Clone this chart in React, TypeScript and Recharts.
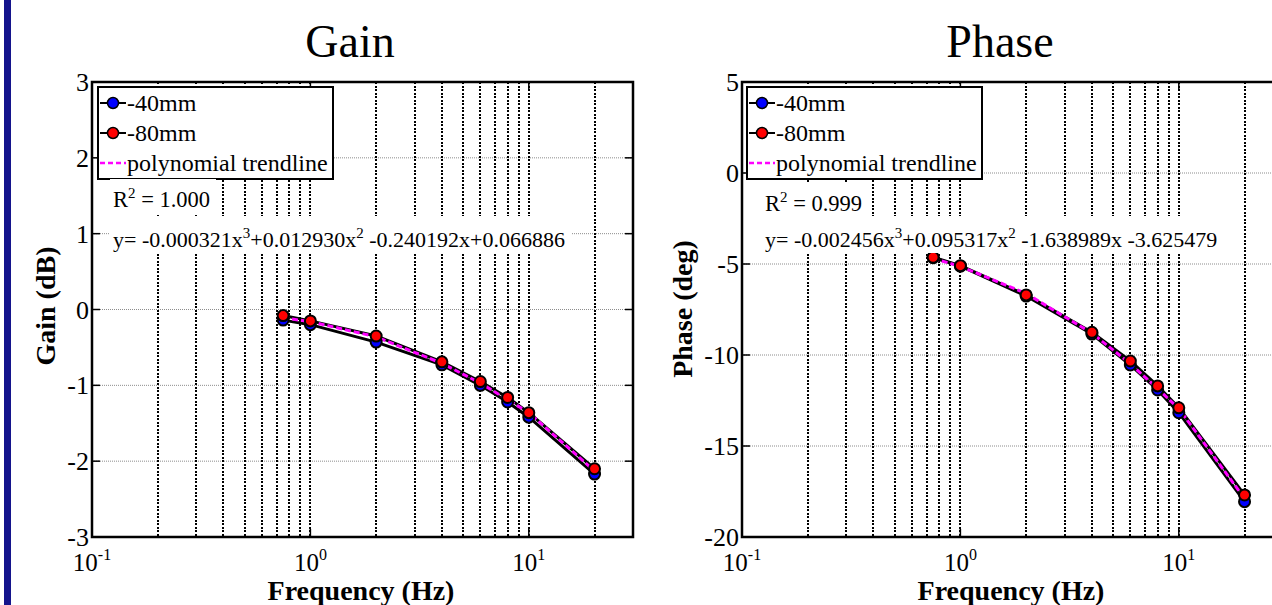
import React from "react";
import { LineChart, Line, XAxis, YAxis, CartesianGrid, ReferenceArea, Legend } from "recharts";

// frequency points (Hz)
const FREQ = [0.75, 1, 2, 4, 6, 8, 10, 20];

// gain (dB)
const GAIN_40 = [-0.14, -0.2, -0.43, -0.73, -1.0, -1.22, -1.42, -2.17];
const GAIN_80 = [-0.08, -0.15, -0.35, -0.69, -0.95, -1.16, -1.36, -2.1];
const GAIN_TREND = [-0.11, -0.16, -0.36, -0.71, -0.97, -1.19, -1.36, -2.13];

// phase (deg)
const PHASE_40 = [-4.65, -5.12, -6.76, -8.85, -10.55, -11.92, -13.17, -18.06];
const PHASE_80 = [-4.63, -5.09, -6.7, -8.75, -10.33, -11.7, -12.9, -17.69];
const PHASE_TREND = [-4.7, -5.13, -6.62, -8.8, -10.48, -11.85, -12.95, -17.88];

const X_TICKS = [0.1, 1, 10];
const X_GRID = [0.2, 0.3, 0.4, 0.5, 0.6, 0.7, 0.8, 0.9, 1, 2, 3, 4, 5, 6, 7, 8, 9, 10, 20];
const GAIN_TICKS = [-3, -2, -1, 0, 1, 2, 3];
const PHASE_TICKS = [-20, -15, -10, -5, 0, 5];

const SERIES_NAMES = ["-40mm", "-80mm", "polynomial trendline"];
const GAIN_R2 = "1.000";
const PHASE_R2 = "0.999";
const GAIN_EQ = ["y= -0.000321x", "3", "+0.012930x", "2", " -0.240192x+0.066886"];
const PHASE_EQ = ["y= -0.002456x", "3", "+0.095317x", "2", " -1.638989x -3.625479"];

const SERIF = "'Liberation Serif', 'Times New Roman', serif";
const TOP = 82;
const BOTTOM = 537;
const PLOT_H = BOTTOM - TOP;

const gainData = FREQ.map((f, i) => ({ f, a: GAIN_40[i], b: GAIN_80[i], t: GAIN_TREND[i] }));
const phaseData = FREQ.map((f, i) => ({ f, a: PHASE_40[i], b: PHASE_80[i], t: PHASE_TREND[i] }));

const DOT_COLORS: Record<string, string> = { a: "#0000ff", b: "#ff0000" };

function LegendContent(props: any) {
  const items = (props.payload || []) as any[];
  return (
    <div
      style={{
        boxSizing: "border-box",
        width: 237,
        height: 94,
        border: "2px solid #000",
        background: "#fff",
        fontFamily: SERIF,
        fontSize: 24,
        color: "#000",
      }}
    >
      {items.map((e) => (
        <div key={e.dataKey} style={{ height: 30, display: "flex", alignItems: "center", whiteSpace: "nowrap" }}>
          <svg width={28} height={30} style={{ flex: "none" }}>
            {e.dataKey === "t" ? (
              <line x1={1} x2={27} y1={15} y2={15} stroke="#ff00ff" strokeWidth={2.5} strokeDasharray="5 3" />
            ) : (
              <>
                <line x1={1} x2={27} y1={15} y2={15} stroke="#000" strokeWidth={2} />
                <circle cx={14} cy={15} r={5.5} fill={DOT_COLORS[e.dataKey]} stroke="#000" strokeWidth={1.5} />
              </>
            )}
          </svg>
          <span>{e.value}</span>
        </div>
      ))}
    </div>
  );
}

function Panel({ left, plotLeft, plotRight, data, domain, ticks, legendLeft }: any) {
  const width = 660;
  const plotW = plotRight - plotLeft;
  const xTick = (p: any) => {
    const exp = Math.round(Math.log10(p.payload.value));
    const axisY = p.y - 34;
    return (
      <g>
        <line x1={p.x} x2={p.x} y1={axisY} y2={axisY - 8} stroke="#000" strokeWidth={1.5} />
        <line x1={p.x} x2={p.x} y1={axisY - PLOT_H} y2={axisY - PLOT_H + 8} stroke="#000" strokeWidth={1.5} />
        <text x={p.x} y={p.y} textAnchor="middle" fontFamily={SERIF} fontSize={25} fill="#000">
          10<tspan dy={-11} fontSize={16}>{exp}</tspan>
        </text>
      </g>
    );
  };
  const yTick = (p: any) => {
    const axisX = p.x + 3;
    return (
      <g>
        <line x1={axisX} x2={axisX + 8} y1={p.y} y2={p.y} stroke="#000" strokeWidth={1.5} />
        <line x1={axisX + plotW - 8} x2={axisX + plotW} y1={p.y} y2={p.y} stroke="#000" strokeWidth={1.5} />
        <text x={p.x} y={p.y} dy="0.35em" textAnchor="end" fontFamily={SERIF} fontSize={26} fill="#000">
          {p.payload.value}
        </text>
      </g>
    );
  };
  return (
    <div style={{ position: "absolute", left, top: 0 }}>
      <LineChart
        width={width}
        height={605}
        data={data}
        margin={{ top: TOP, right: left + width - plotRight, bottom: 605 - BOTTOM - 30, left: plotLeft - left - 60 }}
      >
        <CartesianGrid vertical={false} horizontalValues={ticks} stroke="#8c8c8c" strokeDasharray="1 1" />
        <CartesianGrid
          horizontal={false}
          verticalValues={X_GRID}
          stroke="#000"
          strokeWidth={2}
          strokeDasharray="2 1.5"
          shapeRendering="crispEdges"
        />
        <XAxis
          dataKey="f"
          type="number"
          scale="log"
          domain={[0.1, 30]}
          ticks={X_TICKS}
          allowDataOverflow
          interval={0}
          height={30}
          tickSize={0}
          tickMargin={34}
          tickLine={false}
          axisLine={false}
          tick={xTick}
        />
        <YAxis
          type="number"
          domain={domain}
          ticks={ticks}
          allowDataOverflow
          interval={0}
          width={60}
          tickSize={0}
          tickMargin={3}
          tickLine={false}
          axisLine={false}
          tick={yTick}
        />
        <ReferenceArea x1={0.1} x2={30} y1={domain[0]} y2={domain[1]} fill="none" stroke="#000" strokeWidth={2.5} />
        <Legend
          layout="vertical"
          align="center"
          verticalAlign="middle"
          content={LegendContent}
          wrapperStyle={{ left: legendLeft - left, top: 86, width: 237, height: 94 }}
        />
        <Line
          dataKey="a"
          name={SERIES_NAMES[0]}
          stroke="#000"
          strokeWidth={3}
          dot={{ r: 5.5, fill: "#0000ff", stroke: "#000", strokeWidth: 2 }}
          isAnimationActive={false}
        />
        <Line
          dataKey="b"
          name={SERIES_NAMES[1]}
          stroke="#000"
          strokeWidth={3}
          dot={{ r: 5.5, fill: "#ff0000", stroke: "#000", strokeWidth: 2 }}
          isAnimationActive={false}
        />
        <Line
          dataKey="t"
          name={SERIES_NAMES[2]}
          stroke="#ff00ff"
          strokeWidth={3}
          strokeDasharray="6 3"
          dot={false}
          isAnimationActive={false}
        />
      </LineChart>
    </div>
  );
}

function Annot({ x, r2Base, eqBase, r2, eq, eqWidth }: any) {
  return (
    <g fontFamily={SERIF} fill="#000">
      <rect x={x - 3} y={r2Base - 28} width={106} height={35} fill="#fff" />
      <rect x={x - 3} y={eqBase - 31} width={eqWidth} height={37} fill="#fff" />
      <text x={x} y={r2Base} fontSize={22.5}>
        R<tspan dy={-9} fontSize={15}>2</tspan>
        <tspan dy={9}>{" = " + r2}</tspan>
      </text>
      <text x={x} y={eqBase} fontSize={22}>
        {eq[0]}
        <tspan dy={-9} fontSize={15}>{eq[1]}</tspan>
        <tspan dy={9}>{eq[2]}</tspan>
        <tspan dy={-9} fontSize={15}>{eq[3]}</tspan>
        <tspan dy={9}>{eq[4]}</tspan>
      </text>
    </g>
  );
}

export default function App() {
  return (
    <div style={{ position: "fixed", left: 0, top: 0, width: 1272, height: 605, overflow: "hidden", background: "#fff" }}>
      <Panel left={0} plotLeft={92} plotRight={633} data={gainData} domain={[-3, 3]} ticks={GAIN_TICKS} legendLeft={97} />
      <Panel left={660} plotLeft={742} plotRight={1283} data={phaseData} domain={[-20, 5]} ticks={PHASE_TICKS} legendLeft={746} />
      <svg width={1272} height={605} style={{ position: "absolute", left: 0, top: 0, pointerEvents: "none" }}>
        <rect x={4} y={0} width={7} height={605} fill="#14148c" />
        <g fontFamily={SERIF} fill="#000">
          <text x={350} y={57} textAnchor="middle" fontSize={46}>Gain</text>
          <text x={1000} y={57} textAnchor="middle" fontSize={46}>Phase</text>
          <text x={361} y={600} textAnchor="middle" fontSize={28} fontWeight="bold">Frequency (Hz)</text>
          <text x={1011} y={600} textAnchor="middle" fontSize={28} fontWeight="bold">Frequency (Hz)</text>
          <text transform="translate(55,306) rotate(-90)" textAnchor="middle" fontSize={28} fontWeight="bold">Gain (dB)</text>
          <text transform="translate(692,309) rotate(-90)" textAnchor="middle" fontSize={28} fontWeight="bold">Phase (deg)</text>
        </g>
        <Annot x={113} r2Base={207} eqBase={247} r2={GAIN_R2} eq={GAIN_EQ} eqWidth={462} />
        <Annot x={765} r2Base={211} eqBase={247} r2={PHASE_R2} eq={PHASE_EQ} eqWidth={458} />
      </svg>
    </div>
  );
}
